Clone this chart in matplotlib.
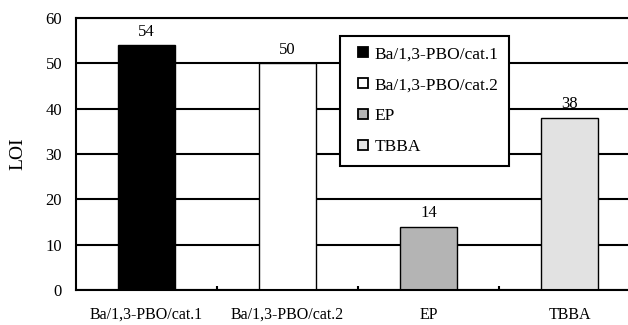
import matplotlib.pyplot as plt
from matplotlib.lines import Line2D

categories = ['Ba/1,3-PBO/cat.1', 'Ba/1,3-PBO/cat.2', 'EP', 'TBBA']
loi = [54, 50, 14, 38]
colors = ['#000000', '#ffffff', '#b4b4b4', '#e2e2e2']

plt.rcParams['font.family'] = ['Liberation Serif', 'DejaVu Serif']

fig = plt.figure(figsize=(6.28, 3.25), dpi=100)
# the plot runs past the right edge in the original
ax = fig.add_axes([76 / 628, 35 / 325, 564 / 628, 272 / 325])

x = range(len(categories))
ax.set_axisbelow(True)
ax.yaxis.grid(True, color='black', linewidth=1.5)
bars = ax.bar(x, loi, width=0.4, color=colors, edgecolor='black', linewidth=1.0)

for xi, v in zip(x, loi):
    ax.text(xi, v + 1.2, str(v), ha='center', va='bottom', fontsize=12)

ax.set_xlim(-0.5, 3.5)
ax.set_ylim(0, 60)
ax.set_yticks(range(0, 61, 10))
ax.set_xticks(list(x))
ax.set_xticklabels(categories, fontsize=11.5)
ax.tick_params(axis='x', length=0, pad=12)
ax.tick_params(axis='y', length=0, labelsize=12, pad=10)
ax.set_xticks([0.5, 1.5, 2.5], minor=True)
ax.tick_params(axis='x', which='minor', direction='in', length=3, width=1.5)
ax.set_ylabel('LOI', fontsize=14, labelpad=14)

for s in ['left', 'bottom', 'top']:
    ax.spines[s].set_linewidth(1.5)
ax.spines['right'].set_visible(False)

handles = [Line2D([], [], linestyle='none', marker='s', markersize=7,
                  markerfacecolor=c, markeredgecolor='black', markeredgewidth=1.3)
           for c in colors]
leg = ax.legend(handles, categories, loc='upper left', bbox_to_anchor=(264 / 564, 1 - 18 / 272),
                borderaxespad=0, fontsize=12.5, handlelength=1.5, handletextpad=-0.1,
                labelspacing=0.85, borderpad=0.6, fancybox=False, framealpha=1)
leg.get_frame().set_edgecolor('black')
leg.get_frame().set_linewidth(1.5)

fig.savefig('out.png', dpi=100)
